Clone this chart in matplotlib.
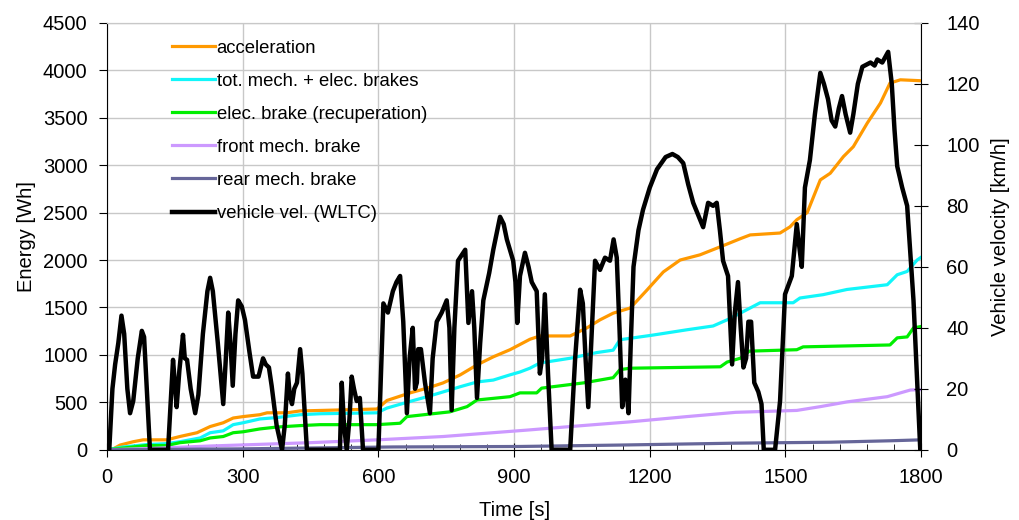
import matplotlib
matplotlib.use("Agg")
import matplotlib.pyplot as plt
from matplotlib.ticker import MultipleLocator

plt.rcParams['font.family'] = ['Liberation Sans', 'DejaVu Sans']

# ---------------- data ----------------
vel_t = [0, 5, 12, 18, 25, 32, 38, 45, 51, 58, 68, 77, 82, 88, 95, 135, 146, 150, 154, 160,
         168, 172, 177, 185, 195, 202, 212, 222, 228, 234, 245, 257, 262, 268, 273, 278, 284,
         290, 298, 305, 315, 323, 335, 345, 351, 358, 364, 375, 387, 393, 400, 404, 409, 414,
         420, 427, 432, 442, 515, 519, 524, 530, 536, 541, 546, 552, 559, 566, 600, 611, 621,
         632, 640, 648, 655, 663, 669, 676, 681, 685, 688, 694, 703, 714, 720, 729, 740, 751,
         757, 762, 768, 776, 792, 799, 807, 812, 818, 825, 832, 845, 854, 869, 877, 884, 898,
         903, 907, 913, 924, 932, 939, 950, 957, 962, 968, 975, 983, 1024, 1035, 1046, 1052,
         1058, 1064, 1072, 1079, 1090, 1101, 1112, 1120, 1127, 1133, 1139, 1146, 1153, 1158,
         1164, 1175, 1185, 1200, 1216, 1235, 1250, 1262, 1274, 1285, 1296, 1307, 1318, 1329,
         1340, 1348, 1355, 1362, 1373, 1382, 1388, 1395, 1401, 1407, 1413, 1418, 1424, 1431,
         1440, 1447, 1452, 1477, 1488, 1499, 1514, 1525, 1531, 1536, 1543, 1554, 1565, 1577,
         1585, 1594, 1602, 1610, 1618, 1625, 1633, 1643, 1650, 1660, 1670, 1688, 1697, 1703,
         1714, 1727, 1735, 1741, 1747, 1758, 1769, 1783, 1798, 1800]
vel_v = [0, 0, 20, 28, 35, 44, 38, 20, 12, 16, 30, 39, 37, 20, 0, 0, 29.5, 22, 14, 26,
         37.7, 30, 29.5, 20, 12, 18, 38, 52, 56.4, 52, 35, 15, 28, 45, 35, 21, 38,
         49, 47, 42.6, 32, 24, 24, 30, 28, 27, 21, 8, 0, 8, 25, 18, 15, 20,
         22, 33, 25, 0, 0, 22, 8, 0, 10, 24, 20, 16, 17, 0, 0, 48, 45,
         52, 55, 57, 42, 12, 30, 40, 20, 22, 33, 33, 22, 12, 30, 42, 45, 49,
         40, 13, 40, 62, 65.6, 41.6, 52, 40, 17, 35, 49, 58, 65.6, 76.4, 74, 69, 62,
         55, 41.6, 57, 64.6, 60, 55, 52, 25, 30, 51, 25, 0, 0, 30, 52.5, 48,
         30, 14, 40, 62, 59, 63, 62, 69, 63, 40, 14, 23, 12, 35,
         60, 72, 78.7, 86, 92, 96, 97, 96, 94, 87, 81, 77, 73, 81,
         80, 81, 72, 62, 57, 28, 45, 55, 40, 27, 30, 42, 42, 22,
         19, 15, 0, 0, 16, 51, 57, 74, 66, 60, 86, 95, 110, 123.6,
         120, 115, 108, 106, 112, 116, 110, 104, 110, 120, 125.6, 127, 126, 128,
         127, 130.5, 120, 105, 93, 86, 80, 49, 0, 0]

acc_t = [0, 14, 29, 58, 80, 132, 161, 199, 228, 257, 279, 301, 338, 354, 398, 427, 449, 597,
         619, 670, 708, 743, 781, 818, 854, 891, 913, 935, 957, 1024, 1061, 1090, 1119, 1157,
         1194, 1230, 1267, 1311, 1356, 1400, 1422, 1488, 1510, 1525, 1548, 1577, 1599, 1628,
         1650, 1681, 1710, 1731, 1754, 1800]
acc_e = [0, 10, 50, 85, 105, 105, 140, 180, 245, 285, 335, 350, 370, 390, 390, 410, 412, 430,
         520, 600, 650, 705, 790, 895, 980, 1055, 1110, 1165, 1200, 1200, 1285, 1370, 1440, 1495,
         1685, 1875, 2000, 2055, 2140, 2225, 2265, 2285, 2350, 2425, 2500, 2845, 2915, 3090,
         3195, 3445, 3655, 3865, 3900, 3890]

tot_t = [0, 36, 88, 132, 161, 206, 228, 257, 279, 301, 338, 376, 427, 471, 597, 619, 670, 708,
         743, 781, 818, 854, 891, 913, 935, 957, 1024, 1083, 1119, 1134, 1208, 1282, 1340, 1371,
         1400, 1444, 1517, 1532, 1583, 1636, 1725, 1747, 1769, 1791, 1800]
tot_e = [0, 30, 55, 65, 85, 125, 180, 200, 265, 285, 325, 340, 370, 380, 390, 440, 510, 560,
         610, 665, 715, 735, 790, 820, 860, 915, 965, 1025, 1050, 1160, 1210, 1265, 1305, 1370,
         1440, 1550, 1550, 1600, 1635, 1690, 1740, 1845, 1880, 2000, 2030]

elec_t = [0, 58, 88, 132, 161, 206, 228, 257, 279, 301, 338, 376, 427, 471, 597, 648, 663, 758,
          796, 818, 891, 913, 950, 961, 1053, 1119, 1134, 1157, 1356, 1371, 1400, 1420, 1525,
          1539, 1731, 1747, 1769, 1783, 1800]
elec_e = [0, 30, 45, 45, 75, 95, 125, 140, 180, 190, 220, 240, 255, 265, 265, 280, 350, 400,
          455, 525, 560, 600, 600, 650, 705, 760, 845, 860, 875, 925, 965, 1040, 1055,
          1085, 1105, 1180, 1190, 1285, 1300]

front_t = [0, 100, 228, 449, 597, 743, 935, 1024, 1157, 1282, 1390, 1525, 1577, 1636, 1725, 1776, 1800]
front_e = [0, 15, 40, 75, 105, 140, 210, 245, 295, 350, 395, 415, 455, 505, 560, 630, 635]

rear_t = [0, 300, 633, 913, 1134, 1390, 1599, 1731, 1800]
rear_e = [0, 10, 30, 35, 50, 70, 80, 95, 105]

labels = ["acceleration", "tot. mech. + elec. brakes", "elec. brake (recuperation)",
          "front mech. brake", "rear mech. brake", "vehicle vel. (WLTC)"]

# ---------------- figure ----------------
fig = plt.figure(figsize=(10.19, 5.2), dpi=100)
ax = fig.add_axes([0.105, 0.135, 0.799, 0.821])
ax2 = ax.twinx()

lw = 2.3
l1, = ax.plot(acc_t, acc_e, color='#FF9900', lw=lw)
l2, = ax.plot(tot_t, tot_e, color='#11F6FA', lw=lw)
l3, = ax.plot(elec_t, elec_e, color='#00EE00', lw=lw)
l4, = ax.plot(front_t, front_e, color='#CC99FF', lw=lw)
l5, = ax.plot(rear_t, rear_e, color='#666699', lw=lw)
l6, = ax2.plot(vel_t, vel_v, color='black', lw=3.2, solid_joinstyle='round')

ax.set_xlim(0, 1800)
ax.set_ylim(0, 4500)
ax2.set_ylim(0, 140)
ax.xaxis.set_major_locator(MultipleLocator(300))
ax.xaxis.set_minor_locator(MultipleLocator(60))
ax.yaxis.set_major_locator(MultipleLocator(500))
ax2.yaxis.set_major_locator(MultipleLocator(20))

ax.grid(True, which='major', color='#C8C8C8', lw=1.0)
ax.set_axisbelow(True)

tfs = 14.5
ax.tick_params(axis='x', which='major', direction='inout', length=10, labelsize=tfs, pad=8)
ax.tick_params(axis='x', which='minor', direction='in', length=4)
ax.tick_params(axis='y', which='major', direction='out', length=6, labelsize=tfs, pad=8)
ax2.tick_params(axis='y', which='major', direction='inout', length=10, labelsize=tfs, pad=13)

for s in ['left', 'bottom']:
    ax.spines[s].set_color('black')
ax.spines['top'].set_color('#C8C8C8')
ax.spines['right'].set_visible(False)
ax2.spines['top'].set_color('#C8C8C8')
ax2.spines['right'].set_color('black')
ax2.spines['left'].set_visible(False)
ax2.spines['bottom'].set_visible(False)

ax.set_xlabel("Time [s]", fontsize=tfs, labelpad=10)
ax.set_ylabel("Energy [Wh]", fontsize=tfs, labelpad=5)
ax2.set_ylabel("Vehicle velocity [km/h]", fontsize=tfs, labelpad=8)

leg = ax2.legend([l1, l2, l3, l4, l5, l6], labels, loc='upper left',
                 bbox_to_anchor=(0.071, 0.978), frameon=False, fontsize=13.3,
                 handlelength=2.3, handletextpad=0.1, labelspacing=0.87,
                 borderaxespad=0.0)

fig.savefig("out.png", dpi=100)
